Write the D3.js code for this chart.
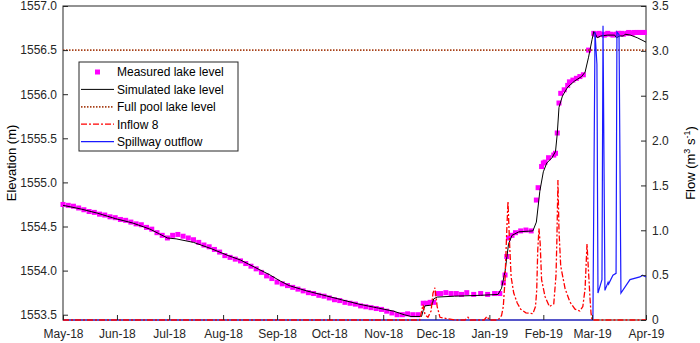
<!DOCTYPE html>
<html><head><meta charset="utf-8">
<script src="https://cdn.jsdelivr.net/npm/d3@7"></script>
<style>
body{margin:0;background:#fff;}
text{font-family:"Liberation Sans",Arial,sans-serif;}
</style></head>
<body><svg id="c" width="700" height="343"></svg>
<script>
// ---- data (day offsets from 2018-05-01) ----
const baseDate = "2018-05-01";
const monthTicks = ["2018-05-01","2018-06-01","2018-07-01","2018-08-01","2018-09-01","2018-10-01","2018-11-01","2018-12-01","2019-01-01","2019-02-01","2019-03-01","2019-04-01"];
const elevTicks = [1553.5,1554.0,1554.5,1555.0,1555.5,1556.0,1556.5,1557.0];
const flowTicks = [0,0.5,1.0,1.5,2.0,2.5,3.0,3.5];
const fullPool = 1556.5;

const measDay = [0,3,6,9,12,15,18,21,24,27,30,33,36,39,42,45,48,51,54,57,60,63,66,69,72,75,78,81,84,87,90,93,96,99,102,105,108,111,114,117,120,123,126,129,132,135,138,141,144,147,150,153,156,159,162,165,168,171,174,177,180,183,186,189,192,195,198,201,204,
 207,209,211,213,215,217,220,223,226,229,232,236,240,244,248,251,253,254,255,256,258,260,263,266,269,272,273,275,276,277,279,282,283,284,285,286,288,290,291,293,295,297,299,302,305,
 306,307,308,309,311,312,313,315,316,318,319,321,322,324,325,327,328,330,331,333,334];
const measLevel = [1554.75,1554.74,1554.73,1554.71,1554.69,1554.67,1554.66,1554.64,1554.63,1554.61,1554.60,1554.58,1554.57,1554.55,1554.53,1554.52,1554.49,1554.47,1554.43,1554.40,1554.37,1554.40,1554.41,1554.39,1554.37,1554.35,1554.32,1554.29,1554.27,1554.24,1554.21,1554.17,1554.15,1554.13,1554.11,1554.08,1554.05,1554.02,1553.98,1553.94,1553.91,1553.87,1553.85,1553.83,1553.81,1553.79,1553.77,1553.75,1553.74,1553.72,1553.71,1553.69,1553.67,1553.66,1553.64,1553.63,1553.62,1553.60,1553.59,1553.58,1553.57,1553.56,1553.54,1553.52,1553.50,1553.50,1553.51,1553.50,1553.50,
 1553.63,1553.63,1553.64,1553.64,1553.74,1553.74,1553.75,1553.74,1553.74,1553.73,1553.75,1553.73,1553.74,1553.73,1553.74,1553.74,1553.86,1553.95,1554.16,1554.37,1554.40,1554.43,1554.45,1554.46,1554.45,1554.80,1554.94,1555.18,1555.22,1555.23,1555.28,1555.31,1555.33,1555.56,1555.90,1556.01,1556.05,1556.10,1556.14,1556.16,1556.18,1556.20,1556.22,1556.50,1556.69,
 1556.68,1556.67,1556.69,1556.68,1556.67,1556.68,1556.69,1556.68,1556.67,1556.68,1556.69,1556.69,1556.68,1556.69,1556.70,1556.69,1556.70,1556.70,1556.70,1556.70,1556.70];

const simDay = [0,10,20,30,40,50,55,60,65,75,85,95,102,110,119,125,130,140,150,160,170,180,190,196,200,206,207,208,212,213,215,225,240,250,252,254,256,258,262,270,272,274,276,278,281,283,284,285,287,290,294,298,300,302,304,305,306,307,309,313,317,318,320,322,323,326,330,335];
const simLevel = [1554.74,1554.70,1554.65,1554.59,1554.54,1554.47,1554.42,1554.37,1554.36,1554.32,1554.25,1554.17,1554.12,1554.04,1553.95,1553.88,1553.83,1553.77,1553.72,1553.67,1553.62,1553.58,1553.54,1553.50,1553.48,1553.48,1553.55,1553.60,1553.61,1553.68,1553.70,1553.71,1553.72,1553.73,1553.80,1553.99,1554.30,1554.40,1554.44,1554.45,1554.55,1554.90,1555.12,1555.22,1555.28,1555.35,1555.55,1555.85,1555.98,1556.08,1556.15,1556.20,1556.25,1556.42,1556.62,1556.71,1556.68,1556.64,1556.66,1556.67,1556.67,1556.64,1556.66,1556.66,1556.68,1556.67,1556.64,1556.59];

const inflowDay = [0,205,206.3,206.9,208,209.7,211.5,212.6,213.7,215,216.6,225,231,232.7,234,242,243.6,245,250,252,253,254,255,255.7,256.5,257.5,259,261,263,266,270,271.5,272.2,272.8,273.5,274.2,275,277,279.5,282,283.3,283.8,284.4,285,286,288.5,291.3,294.2,297,298.7,300,301.1,301.8,302.8,303.4,304,335];
const inflowQ   = [0,0,0.12,0.17,0.06,0.03,0.10,0.30,0.36,0.15,0.03,0,0,0.03,0,0,0.04,0,0,0.05,0.15,0.45,1.00,1.32,0.90,0.48,0.30,0.19,0.12,0.08,0.07,0.15,0.33,0.78,1.02,0.85,0.45,0.26,0.15,0.18,0.50,0.90,1.56,1.00,0.60,0.35,0.20,0.12,0.10,0.15,0.35,0.85,0.60,0.25,0.08,0,0];

const spillDay = [0,304.0,304.5,305.7,306.8,307.4,309.7,310.3,311.4,313.2,313.5,316,317.8,318.3,319.5,320.6,325.8,331.5,333,335];
const spillQ   = [0,0,0.0,3.21,2.85,0.30,0.45,3.28,0.33,0.42,0.40,0.50,0.52,3.21,3.18,0.30,0.45,0.48,0.50,0.48];

// ---- chart ----
const W=700,H=343, L=63, R=646, T=6, B=320;
const svg=d3.select("#c");
const parse=d3.utcParse("%Y-%m-%d");
const b0=parse(baseDate);
const dd=d=>new Date(b0.getTime()+d*86400000);
const x=d3.scaleUtc().domain([parse("2018-05-01"),parse("2019-04-01")]).range([L,R]);
const yL=d3.scaleLinear().domain([1553.44,1557]).range([B,T]);
const yR=d3.scaleLinear().domain([0,3.5]).range([B,T]);

// frame (drawn first so series at zero cover the bottom edge)
svg.append("rect").attr("x",L).attr("y",T).attr("width",R-L).attr("height",B-T)
 .attr("fill","none").attr("stroke","#262626").attr("stroke-width",1);

const g=svg.append("g");
// series
g.selectAll("rect.m").data(measDay).join("rect")
 .attr("x",(d)=>x(dd(d))-2.5).attr("y",(d,i)=>yL(measLevel[i])-2.5)
 .attr("width",5).attr("height",5).attr("fill","#ff00ff");

const lineL=d3.line().x(d=>x(dd(d[0]))).y(d=>yL(d[1]));
const lineR=d3.line().x(d=>x(dd(d[0]))).y(d=>yR(d[1]));
g.append("path").attr("d",lineL(simDay.map((d,i)=>[d,simLevel[i]])))
 .attr("fill","none").attr("stroke","#000").attr("stroke-width",1);
g.append("line").attr("x1",L).attr("x2",R).attr("y1",yL(fullPool)).attr("y2",yL(fullPool))
 .attr("stroke","#a8421a").attr("stroke-width",1.7).attr("stroke-dasharray","1.5,1.5");
g.append("path").attr("d",lineR(spillDay.map((d,i)=>[d,spillQ[i]])))
 .attr("fill","none").attr("stroke","#1a1aff").attr("stroke-width",1.2);
g.append("path").attr("d",lineR(inflowDay.map((d,i)=>[d,inflowQ[i]])))
 .attr("fill","none").attr("stroke","#ff0000").attr("stroke-width",1.3).attr("stroke-dasharray","6,2,2,2");

// axes
const tk=5;
const ax=svg.append("g").attr("transform",`translate(0,${B})`)
 .call(d3.axisBottom(x).tickValues(monthTicks.map(parse)).tickFormat(d3.utcFormat("%b-%y")).tickSizeInner(-tk).tickSizeOuter(0).tickPadding(9));
const al=svg.append("g").attr("transform",`translate(${L},0)`)
 .call(d3.axisLeft(yL).tickValues(elevTicks).tickFormat(d3.format(".1f")).tickSizeInner(-tk).tickSizeOuter(0).tickPadding(6));
const ar=svg.append("g").attr("transform",`translate(${R},0)`)
 .call(d3.axisRight(yR).tickValues(flowTicks).tickFormat(d=>d===0?"0":d3.format(".1f")(d)).tickSizeInner(-tk).tickSizeOuter(0).tickPadding(6));
[ax,al,ar].forEach(a=>{a.select(".domain").remove();
 a.selectAll("line").attr("stroke","#262626");
 a.selectAll("text").attr("font-size",12).attr("fill","#262626").attr("font-family","'Liberation Sans',Arial,sans-serif");});

// axis titles
svg.append("text").attr("transform","translate(16,163) rotate(-90)").attr("text-anchor","middle")
 .attr("font-size",13).attr("fill","#000").text("Elevation (m)");
const ft=svg.append("text").attr("transform","translate(695,163) rotate(-90)").attr("text-anchor","middle")
 .attr("font-size",13).attr("fill","#000");
ft.append("tspan").text("Flow (m");
ft.append("tspan").attr("font-size",9).attr("dy",-5).text("3");
ft.append("tspan").attr("dy",5).text(" s");
ft.append("tspan").attr("font-size",9).attr("dy",-5).text("-1");
ft.append("tspan").attr("dy",5).text(")");

// legend
const lg=svg.append("g");
lg.append("rect").attr("x",79).attr("y",62).attr("width",159).attr("height",89)
 .attr("fill","#fff").attr("stroke","#262626").attr("stroke-width",1);
const items=[
 {t:"Measured lake level",k:"m"},
 {t:"Simulated lake level",c:"#000",w:1,da:null},
 {t:"Full pool lake level",c:"#a8421a",w:1.7,da:"1.5,1.5"},
 {t:"Inflow 8",c:"#ff0000",w:1.3,da:"6,2,2,2"},
 {t:"Spillway outflow",c:"#1a1aff",w:1.2,da:null}];
items.forEach((it,i)=>{
 const yy=72+i*17.4;
 if(it.k==="m"){lg.append("rect").attr("x",95).attr("y",yy-2.5).attr("width",5).attr("height",5).attr("fill","#ff00ff");}
 else{lg.append("line").attr("x1",81).attr("x2",114).attr("y1",yy).attr("y2",yy)
  .attr("stroke",it.c).attr("stroke-width",it.w).attr("stroke-dasharray",it.da);}
 lg.append("text").attr("x",117).attr("y",yy+4.3).attr("font-size",12).attr("fill","#000").text(it.t);
});
</script></body></html>
